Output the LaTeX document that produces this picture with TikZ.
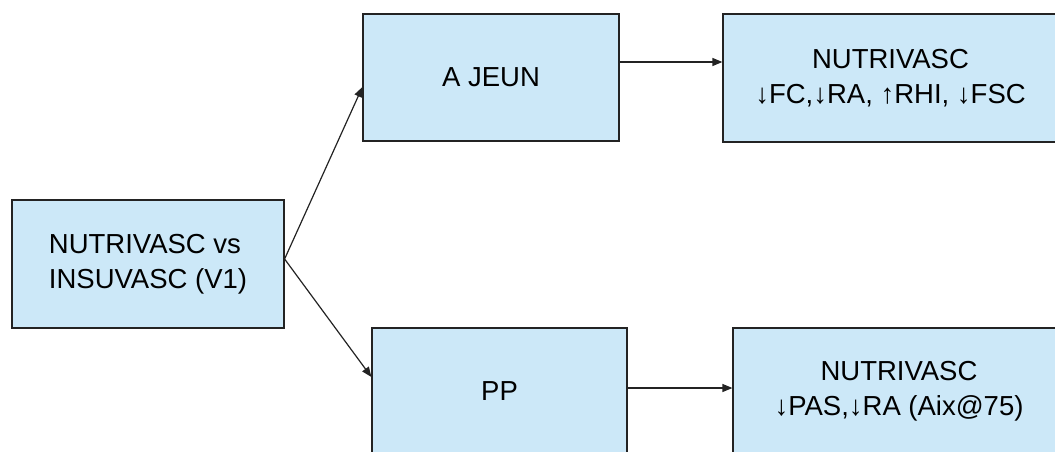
\documentclass[tikz,border=0pt]{standalone}
\usepackage{fontspec}
\setmainfont{Liberation Sans}
\usetikzlibrary{arrows.meta,calc}
\definecolor{boxfill}{RGB}{204,232,248}
\definecolor{boxline}{RGB}{35,35,35}
\begin{document}
\begin{tikzpicture}[x=1pt,y=-1pt,
  box/.style={draw=boxline, line width=1.2pt, fill=boxfill, rectangle, inner sep=0pt,
    font=\fontsize{27.5}{35}\selectfont},
  conn/.style={draw=boxline, line width=1.2pt, -{Triangle[length=10pt,width=8pt]}}]
\useasboundingbox (0,0) rectangle (1055,452);
\clip (0,0) rectangle (1055,452);
\node[box, minimum width=272pt, minimum height=128pt, align=left] (L) at (148,264) {NUTRIVASC vs\\INSUVASC (V1)};
\node[box, minimum width=256pt, minimum height=127pt, align=center] (AJ) at (491,77.5) {A JEUN};
\node[box, minimum width=335pt, minimum height=128pt, align=center] (TR) at (890.5,78) {NUTRIVASC\\↓FC,↓RA, ↑RHI, ↓FSC};
\node[box, minimum width=255pt, minimum height=127pt, align=center] (PP) at (499.5,391.5) {PP};
\node[box, minimum width=332pt, minimum height=127pt, align=center] (BR) at (899,391.5) {NUTRIVASC\\↓PAS,↓RA (Aix@75)};
\coordinate (Ls) at ($(L.east)+(0,-5)$);
\coordinate (AJin) at ($(AJ.west)+(0,9.5)$);
\coordinate (PPin) at ($(PP.west)+(0,-14.5)$);
\coordinate (AJout) at ($(AJ.east)+(0,-15.5)$);
\coordinate (PPout) at ($(PP.east)+(0,-3.5)$);
\coordinate (TRin) at (AJout -| TR.west);
\coordinate (BRin) at (PPout -| BR.west);
\draw[conn] (Ls) -- (AJin);
\draw[conn] (Ls) -- (PPin);
\draw[conn] (AJout) -- (TRin);
\draw[conn] (PPout) -- (BRin);
\end{tikzpicture}
\end{document}
